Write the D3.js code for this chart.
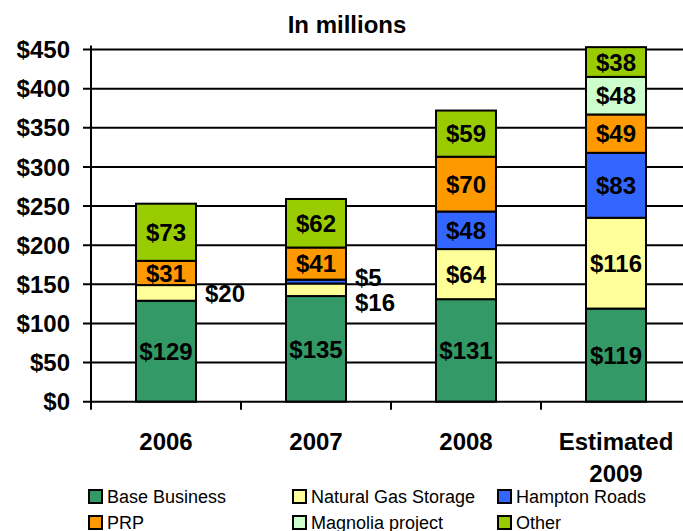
<!DOCTYPE html>
<html>
<head>
<meta charset="utf-8">
<script src="https://cdn.jsdelivr.net/npm/d3@7"></script>
<style>
  body { margin: 0; background: #fff; }
  text { font-family: Arial, "Liberation Sans", sans-serif; }
</style>
</head>
<body>
<div id="chart"></div>
<script>
// chart values
const years = ["2006", "2007", "2008", "Estimated 2009"];
const seriesNames = ["Base Business", "Natural Gas Storage", "Hampton Roads", "PRP", "Magnolia project", "Other"];
const seriesColors = ["#339966", "#FFFF99", "#3366FF", "#FF9900", "#CCFFCC", "#99CC00"];
const baseBusiness = [129, 135, 131, 119];
const naturalGasStorage = [20, 16, 64, 116];
const hamptonRoads = [0, 5, 48, 83];
const prp = [31, 41, 70, 49];
const magnolia = [0, 0, 0, 48];
const other = [73, 62, 59, 38];
const yTicks = [0, 50, 100, 150, 200, 250, 300, 350, 400, 450];

const W = 683, H = 531;
const svg = d3.select("#chart").append("svg")
  .attr("width", W).attr("height", H);

// build rows for the stack
const allSeries = [baseBusiness, naturalGasStorage, hamptonRoads, prp, magnolia, other];
const rows = years.map((yr, i) => {
  const r = {year: yr};
  seriesNames.forEach((s, j) => r[s] = allSeries[j][i]);
  return r;
});
const stacked = d3.stack().keys(seriesNames)(rows);

const x = d3.scaleBand().domain(years).range([91, 691]).padding(0);
const y = d3.scaleLinear().domain([0, 450]).range([401.7, 49.5]);
const barW = x.bandwidth() * 0.4;

// title
svg.append("text")
  .attr("x", 347).attr("y", 33)
  .attr("text-anchor", "middle")
  .style("font-size", "24px").style("font-weight", "bold")
  .text("In millions");

// gridlines + ticks
svg.append("g")
  .selectAll("line")
  .data(yTicks.filter(d => d > 0))
  .join("line")
  .attr("x1", 83).attr("x2", 691)
  .attr("y1", d => y(d)).attr("y2", d => y(d))
  .attr("stroke", "#000").attr("stroke-width", 2);

// y labels
svg.append("g")
  .selectAll("text")
  .data(yTicks)
  .join("text")
  .attr("x", 70).attr("y", d => y(d))
  .attr("dy", "0.36em")
  .attr("text-anchor", "end")
  .style("font-size", "24px").style("font-weight", "bold")
  .text(d => "$" + d);

// bars
const layer = svg.append("g").selectAll("g")
  .data(stacked)
  .join("g")
  .attr("fill", (d, i) => seriesColors[i]);

layer.selectAll("rect")
  .data(d => d.filter(p => p[1] - p[0] > 0))
  .join("rect")
  .attr("x", d => x(d.data.year) + (x.bandwidth() - barW) / 2)
  .attr("y", d => y(d[1]))
  .attr("width", barW)
  .attr("height", d => y(d[0]) - y(d[1]))
  .attr("stroke", "#000").attr("stroke-width", 2);

// axes lines
svg.append("line")
  .attr("x1", 83).attr("x2", 691)
  .attr("y1", y(0)).attr("y2", y(0))
  .attr("stroke", "#000").attr("stroke-width", 2);
svg.append("line")
  .attr("x1", 91).attr("x2", 91)
  .attr("y1", y(455)).attr("y2", y(0) + 8)
  .attr("stroke", "#000").attr("stroke-width", 2);
svg.append("g")
  .selectAll("line")
  .data(years.slice(1))
  .join("line")
  .attr("x1", d => x(d)).attr("x2", d => x(d))
  .attr("y1", y(0)).attr("y2", y(0) + 8)
  .attr("stroke", "#000").attr("stroke-width", 2);

// data labels - small segments go outside to the right
const nudge = {"2006|Natural Gas Storage": 0, "2007|Natural Gas Storage": 13, "2007|Hampton Roads": -4};
const labels = [];
stacked.forEach(s => s.forEach(p => {
  const v = p[1] - p[0];
  if (v <= 0) return;
  const key = p.data.year + "|" + s.key;
  const outside = key in nudge;
  labels.push({
    v: v,
    x: outside ? x(p.data.year) + (x.bandwidth() + barW) / 2 + 9 : x(p.data.year) + x.bandwidth() / 2,
    y: y((p[0] + p[1]) / 2) + (outside ? nudge[key] : 0),
    anchor: outside ? "start" : "middle"
  });
}));
svg.append("g")
  .selectAll("text")
  .data(labels)
  .join("text")
  .attr("x", d => d.x).attr("y", d => d.y)
  .attr("dy", "0.36em")
  .attr("text-anchor", d => d.anchor)
  .style("font-size", "24px").style("font-weight", "bold")
  .text(d => "$" + d.v);

// category labels (last one wraps)
const cat = svg.append("g").selectAll("text")
  .data(years)
  .join("text")
  .attr("x", d => x(d) + x.bandwidth() / 2)
  .attr("y", 450)
  .attr("text-anchor", "middle")
  .style("font-size", "24px").style("font-weight", "bold");
cat.each(function(d) {
  const words = d.split(" ");
  const t = d3.select(this);
  words.forEach((w, i) => {
    t.append("tspan")
      .attr("x", x(d) + x.bandwidth() / 2)
      .attr("dy", i === 0 ? 0 : 32)
      .text(w);
  });
});

// legend
const legX = [88, 292, 497];
const legY = [490, 516];
const leg = svg.append("g").selectAll("g")
  .data(seriesNames)
  .join("g")
  .attr("transform", (d, i) => `translate(${legX[i % 3]}, ${legY[Math.floor(i / 3)]})`);
leg.append("rect")
  .attr("x", 1).attr("y", 0)
  .attr("width", 13).attr("height", 13)
  .attr("fill", (d, i) => seriesColors[i])
  .attr("stroke", "#000").attr("stroke-width", 2);
leg.append("text")
  .attr("x", 19).attr("y", 13)
  .style("font-size", "18px")
  .text(d => d);
</script>
</body>
</html>
